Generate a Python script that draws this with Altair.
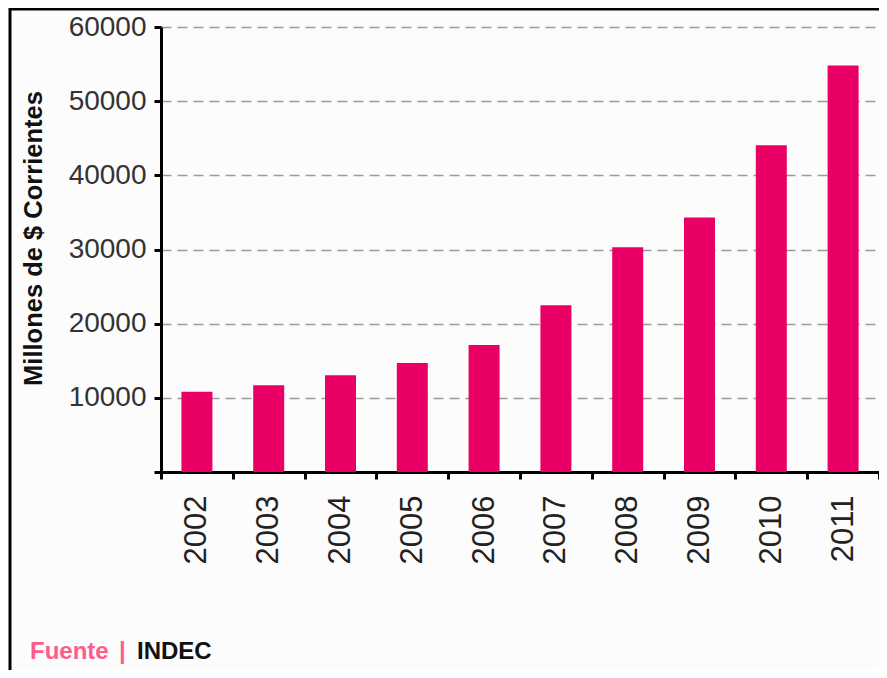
import altair as alt
import pandas as pd

years = ["2002", "2003", "2004", "2005", "2006", "2007", "2008", "2009", "2010", "2011"]
values = [10820, 11690, 13030, 14690, 17120, 22500, 30320, 34330, 44070, 54810]
y_ticks = [0, 10000, 20000, 30000, 40000, 50000, 60000]
y_title = "Millones de $ Corrientes"
source_label = "Fuente"
source_sep = "|"
source_name = "INDEC"

df = pd.DataFrame({"year": years, "value": values})

bars = alt.Chart(df).mark_bar(size=31, color="#EA0064").encode(
    x=alt.X("year:O", sort=years,
            scale=alt.Scale(paddingInner=0, paddingOuter=0),
            axis=alt.Axis(title=None, labelAngle=-90, labelAlign="right", labelBaseline="middle",
                          labelPadding=16, labelFontSize=31, labelFont="Liberation Sans",
                          labelColor="#222", tickBand="extent", grid=False)),
    y=alt.Y("value:Q", scale=alt.Scale(domain=[0, 60000], nice=False),
            axis=alt.Axis(title=y_title, values=y_ticks,
                          labelExpr="datum.value == 0 ? '' : datum.value",
                          labelFontSize=28, labelFont="Liberation Sans", labelColor="#333",
                          labelPadding=8, grid=True, gridColor="#999", gridDash=[10, 6],
                          gridWidth=1.5, titleFont="Liberation Sans", titleFontSize=25.5,
                          titleFontWeight="bold", titleColor="#111", titleX=-128, titleY=211,
                          titleAngle=-90, titleAlign="center", titleBaseline="middle")),
)

one = alt.Data(values=[{}])
frame_top = alt.Chart(one).mark_rule(color="black", strokeWidth=3).encode(
    x=alt.value(-152), x2=alt.value(740), y=alt.value(-18))
frame_left = alt.Chart(one).mark_rule(color="black", strokeWidth=3).encode(
    x=alt.value(-151), y=alt.value(-19), y2=alt.value(643))

def foot(text, x, color):
    return alt.Chart(one).mark_text(align="left", baseline="middle", font="Liberation Sans",
                                    fontSize=24, fontWeight="bold", color=color).encode(
        x=alt.value(x), y=alt.value(625), text=alt.value(text))

foot1 = foot(source_label, -131, "#FF5C8D")
foot_sep = foot(source_sep, -42, "#FF5C8D")
foot2 = foot(source_name, -24, "#111")

chart = alt.layer(bars, frame_top, frame_left, foot1, foot_sep, foot2).properties(
    width=718, height=445,
    autosize=alt.AutoSizeParams(type="none"),
    padding={"left": 153, "top": 19, "right": 0, "bottom": 198},
    background="#FCFCFC",
).configure_view(strokeWidth=0).configure_axis(
    domainColor="black", domainWidth=3, tickColor="black", tickWidth=3, tickSize=7,
)

chart.save("out.html", embed_options={"renderer": "svg", "actions": False})
